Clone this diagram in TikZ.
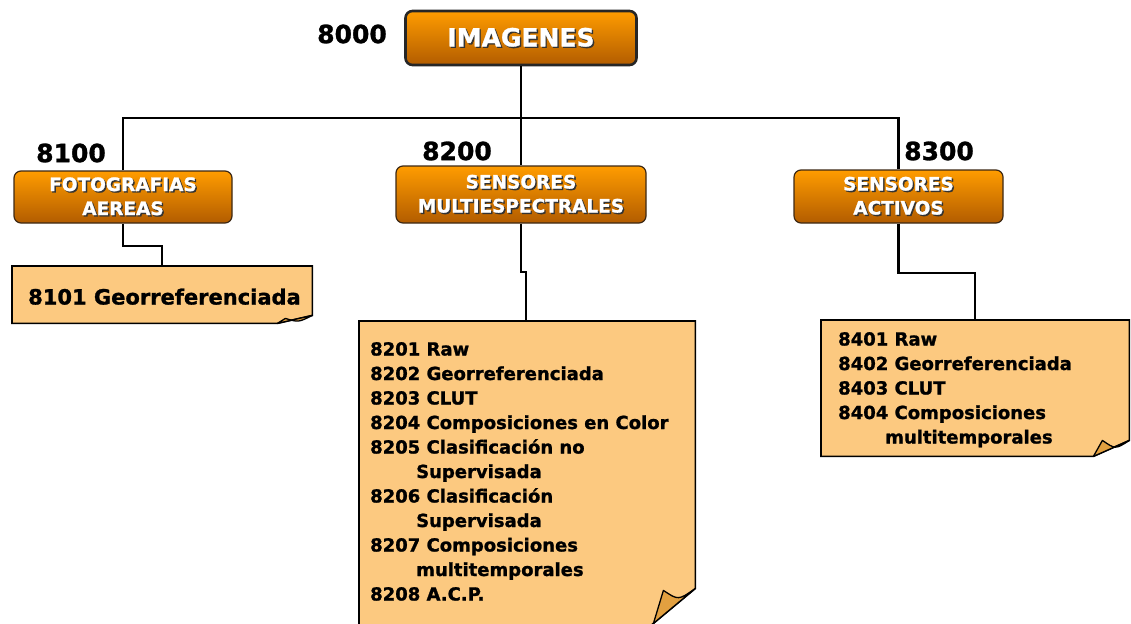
\documentclass[tikz,border=0pt]{standalone}
\usepackage{fontspec}
\setmainfont[BoldFeatures={FakeBold=1.2}]{DejaVu Sans}
\usetikzlibrary{backgrounds,calc}
\definecolor{ortop}{RGB}{255,156,0}
\definecolor{orbot}{RGB}{178,92,0}
\definecolor{notefill}{RGB}{252,201,128}
\definecolor{foldfill}{RGB}{226,160,64}
\definecolor{boxline}{RGB}{60,40,20}
\newcommand\shd[1]{\leavevmode\rlap{\kern1.4pt\raisebox{-1.4pt}{\textcolor{black!80}{#1}}}#1}
% #1 node, #2 fold width, #3 fold height, #4,#5 inner vertex, #6,#7 curve control, #8 base x of fold
\newcommand\notepath[8]{%
  \path[noteline] (#1.north west) -- (#1.north east) -- ([yshift=#3pt]#1.south east)
     -- ([xshift=-#2pt]#1.south east) -- (#1.south west) -- cycle;
  \path[foldline] ([yshift=#3pt]#1.south east)
     .. controls ([xshift=#6pt, yshift=#7pt]#1.south east) .. ([xshift=#4pt, yshift=#5pt]#1.south east)
     -- ([xshift=#8pt]#1.south east) -- ([xshift=-#2pt]#1.south east) -- cycle;}
\tikzset{
 headbox/.style={draw=boxline, line width=1.2pt, rounded corners=7pt, top color=ortop, bottom color=orbot,
   text=white, align=center, font=\fontsize{18.5}{24}\selectfont\bfseries, inner sep=0pt},
 mainbox/.style={headbox, line width=2.6pt, draw=black!85, font=\fontsize{25}{30}\selectfont\bfseries},
 code/.style={font=\fontsize{25}{30}\selectfont\bfseries, inner sep=0pt},
 link/.style={draw=black, line width=2.2pt},
 notebox/.style={inner sep=0pt, draw=none, anchor=north west},
 notetext/.style={inner sep=0pt, anchor=base west, font=\fontsize{18}{24.5}\selectfont\bfseries},
 noteline/.style={draw=black, line width=1.6pt, fill=notefill, line join=miter},
 foldline/.style={draw=black, line width=1.3pt, fill=foldfill, line join=round},
}
\begin{document}
\begin{tikzpicture}[x=1pt,y=-1pt]
\useasboundingbox (0,0) rectangle (1131,623);

% header boxes
\node[mainbox, minimum width=231pt, minimum height=54pt] (img) at (521,38) {\shd{IMAGENES}};
\node[headbox, minimum width=218pt, minimum height=52pt] (b1) at (123,197) {\shd{FOTOGRAFIAS}\\\shd{AEREAS}};
\node[headbox, minimum width=250pt, minimum height=57pt] (b2) at (521,194.5) {\shd{SENSORES}\\\shd{MULTIESPECTRALES}};
\node[headbox, minimum width=209pt, minimum height=53pt] (b3) at (898.5,196.5) {\shd{SENSORES}\\\shd{ACTIVOS}};

% codes
\node[code] (l0) at (352,34) {8000};
\node[code] (l1) at (71,153) {8100};
\node[code] (l2) at (457,151) {8200};
\node[code] (l3) at (939,151) {8300};

% notes (geometry)
\node[notebox, minimum width=300pt, minimum height=57pt] (n1) at (12,266) {};
\node[notebox, minimum width=336pt, minimum height=312pt] (n2) at (359,321) {};
\node[notebox, minimum width=308pt, minimum height=136pt] (n3) at (821,320) {};

% note texts
\node[notetext, font=\fontsize{21}{26}\selectfont\bfseries] (t1) at (28,304.5) {8101 Georreferenciada};
\node[notetext] (t2) at (370,355.5) {\begin{tabular}[t]{@{}l@{}}
8201 Raw\\
8202 Georreferenciada\\
8203 CLUT\\
8204 Composiciones en Color\\
8205 Clasificación no\\
\hspace*{46pt}Supervisada\\
8206 Clasificación\\
\hspace*{46pt}Supervisada\\
8207 Composiciones\\
\hspace*{46pt}multitemporales\\
8208 A.C.P.
\end{tabular}};
\node[notetext] (t3) at (838,345.5) {\begin{tabular}[t]{@{}l@{}}
8401 Raw\\
8402 Georreferenciada\\
8403 CLUT\\
8404 Composiciones\\
\hspace*{47pt}multitemporales
\end{tabular}};

\begin{scope}[on background layer]
\notepath{n1}{35}{8}{-27}{5}{-14}{1}{-35}
\notepath{n2}{54}{45}{-32}{43}{-17}{33}{-45}
\notepath{n3}{36}{16}{-27}{16}{-14}{7}{-36}
\end{scope}

% connectors
\coordinate (bus) at (521,118);
\coordinate (c1) at (162,266);
\coordinate (c2) at (526,321);
\coordinate (c3) at (975,320);
\draw[link] (img.south) -- (bus);
\draw[link] (b1.north) |- (bus) -| (b3.north);
\draw[link] (bus) -- (b2.north);
\draw[link] (b1.south) -- (b1.south |- 0,246) -| (c1);
\draw[link] (b2.south) -- (b2.south |- 0,272) -| (c2);
\draw[link] (b3.south) -- (b3.south |- 0,273) -| (c3);
\end{tikzpicture}
\end{document}
